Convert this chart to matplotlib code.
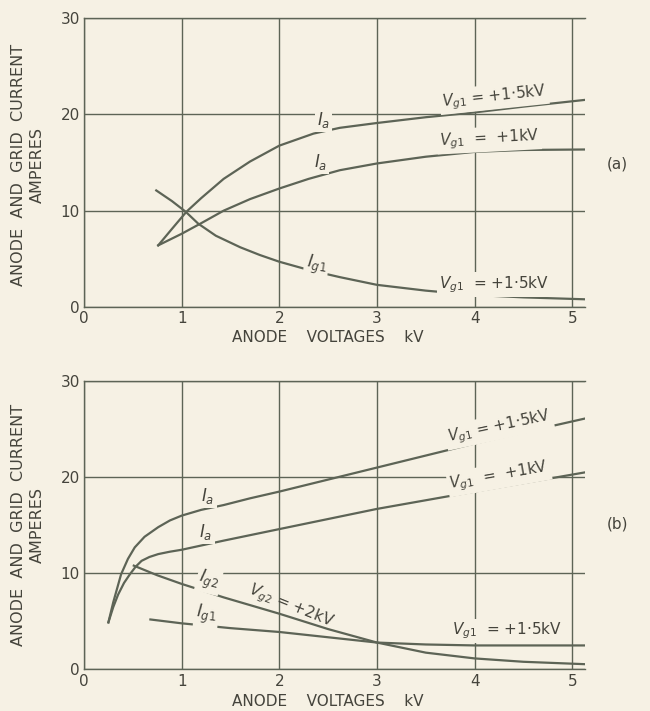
import matplotlib.pyplot as plt

# (a) curves, anode voltage in kV, current in A
a_ia15_v = [0.76, 0.9, 1.05, 1.2, 1.43, 1.7, 2.0, 2.35, 2.62, 3.0, 3.5, 4.0, 4.5, 5.13]
a_ia15_i = [6.4, 8.1, 9.9, 11.3, 13.3, 15.1, 16.75, 18.0, 18.6, 19.1, 19.7, 20.2, 20.8, 21.5]
a_ia1_v = [0.76, 1.0, 1.2, 1.43, 1.7, 2.0, 2.3, 2.62, 3.0, 3.5, 4.0, 4.5, 5.13]
a_ia1_i = [6.4, 7.6, 8.7, 10.0, 11.2, 12.3, 13.3, 14.2, 14.9, 15.6, 16.1, 16.3, 16.35]
a_ig1_v = [0.74, 0.9, 1.04, 1.17, 1.35, 1.6, 1.8, 2.0, 2.3, 2.62, 3.0, 3.5, 4.0, 4.5, 5.13]
a_ig1_i = [12.1, 11.0, 9.9, 8.65, 7.4, 6.2, 5.4, 4.7, 3.85, 3.1, 2.3, 1.7, 1.25, 1.0, 0.8]

# (b)
b_ia15_v = [0.25, 0.3, 0.38, 0.45, 0.52, 0.62, 0.76, 0.88, 1.0, 1.2, 1.43, 1.7, 2.0, 3.0, 4.0, 5.13]
b_ia15_i = [4.9, 7.0, 9.9, 11.5, 12.7, 13.8, 14.8, 15.5, 16.0, 16.6, 17.1, 17.8, 18.5, 21.0, 23.5, 26.1]
b_ia1_v = [0.25, 0.3, 0.35, 0.41, 0.47, 0.53, 0.59, 0.67, 0.76, 0.88, 1.0, 1.43, 2.0, 3.0, 4.0, 5.13]
b_ia1_i = [4.9, 6.5, 7.8, 9.0, 9.9, 10.7, 11.3, 11.7, 12.0, 12.25, 12.45, 13.4, 14.6, 16.7, 18.5, 20.5]
b_ig2_v = [0.51, 0.75, 1.0, 1.43, 2.0, 2.5, 3.0, 3.5, 4.0, 4.5, 5.13]
b_ig2_i = [10.8, 9.8, 8.9, 7.5, 5.8, 4.2, 2.8, 1.75, 1.15, 0.8, 0.55]
b_ig1_v = [0.68, 1.0, 1.5, 2.0, 2.5, 3.0, 3.5, 4.0, 5.13]
b_ig1_i = [5.2, 4.8, 4.3, 3.9, 3.35, 2.8, 2.6, 2.5, 2.5]

xticks = [0, 1, 2, 3, 4, 5]
yticks = [0, 10, 20, 30]

bg = '#f6f1e4'
ink = '#45443c'
line = '#5d6456'

plt.rcParams['font.family'] = ['DejaVu Sans']
fig = plt.figure(figsize=(6.5, 7.11), dpi=100, facecolor=bg)
ax1 = fig.add_axes([0.1292, 0.5682, 0.7708, 0.4065])
ax2 = fig.add_axes([0.1292, 0.0584, 0.7708, 0.4057])

for ax in (ax1, ax2):
    ax.set_facecolor(bg)
    ax.set_xlim(0, 5.13)
    ax.set_ylim(0, 30)
    ax.set_xticks(xticks)
    ax.set_yticks(yticks)
    ax.tick_params(length=0, colors=ink, labelsize=11, pad=3)
    ax.grid(True, color=line, lw=1.0)
    ax.set_axisbelow(True)
    ax.spines['right'].set_visible(False)
    for s in ['left', 'bottom', 'top']:
        ax.spines[s].set_color(line)
        ax.spines[s].set_linewidth(1.0)

ylab = 'ANODE  AND  GRID  CURRENT\nAMPERES'
xlab = 'ANODE    VOLTAGES    kV'
fig.text(28 / 650, 1 - 165 / 711, ylab, rotation=90, ha='center', va='center',
         color=ink, fontsize=11.5, linespacing=1.25, multialignment='center')
fig.text(28 / 650, 1 - 525 / 711, ylab, rotation=90, ha='center', va='center',
         color=ink, fontsize=11.5, linespacing=1.25, multialignment='center')
fig.text(328 / 650, 1 - 337 / 711, xlab, ha='center', va='center', color=ink, fontsize=11)
fig.text(328 / 650, 1 - 701 / 711, xlab, ha='center', va='center', color=ink, fontsize=11)

kw = dict(color=line, lw=1.6)
box = dict(facecolor=bg, edgecolor='none', pad=1.5)
tkw = dict(color=ink, ha='center', va='center', bbox=box)

ax1.plot(a_ia15_v, a_ia15_i, **kw)
ax1.plot(a_ia1_v, a_ia1_i, **kw)
ax1.plot(a_ig1_v, a_ig1_i, **kw)
ax1.text(2.45, 19.4, '$I_a$', fontsize=12, **tkw)
ax1.text(2.42, 15.0, '$I_a$', fontsize=12, **tkw)
ax1.text(2.38, 4.4, '$I_{g1}$', fontsize=12, rotation=-8, **tkw)
ax1.text(4.2, 21.8, '$V_{g1}$ = +1·5kV', fontsize=11, rotation=6, **tkw)
ax1.text(4.15, 17.4, '$V_{g1}$  =  +1kV', fontsize=11, rotation=3, **tkw)
ax1.text(4.2, 2.3, '$V_{g1}$  = +1·5kV', fontsize=11, rotation=0, **tkw)

ax2.plot(b_ia15_v, b_ia15_i, **kw)
ax2.plot(b_ia1_v, b_ia1_i, **kw)
ax2.plot(b_ig2_v, b_ig2_i, **kw)
ax2.plot(b_ig1_v, b_ig1_i, **kw)
ax2.text(1.27, 18.0, '$I_a$', fontsize=12, **tkw)
ax2.text(1.25, 14.3, '$I_a$', fontsize=12, **tkw)
ax2.text(1.28, 9.3, '$I_{g2}$', fontsize=12, rotation=-14, **tkw)
ax2.text(1.25, 5.7, '$I_{g1}$', fontsize=12, rotation=-5, **tkw)
ax2.text(2.12, 6.6, '$V_{g2}$ = +2kV', fontsize=11, rotation=-22,
         color=ink, ha='center', va='center')
ax2.text(4.25, 25.2, '$V_{g1}$ = +1·5kV', fontsize=11, rotation=12, **tkw)
ax2.text(4.25, 20.1, '$V_{g1}$  =  +1kV', fontsize=11, rotation=10, **tkw)
ax2.text(4.33, 4.0, '$V_{g1}$  = +1·5kV', fontsize=11, rotation=0, **tkw)

fig.text(617 / 650, 1 - 164 / 711, '(a)', color=ink, fontsize=11, ha='center', va='center')
fig.text(617 / 650, 1 - 524 / 711, '(b)', color=ink, fontsize=11, ha='center', va='center')

fig.savefig('out.png', dpi=100, facecolor=bg)
